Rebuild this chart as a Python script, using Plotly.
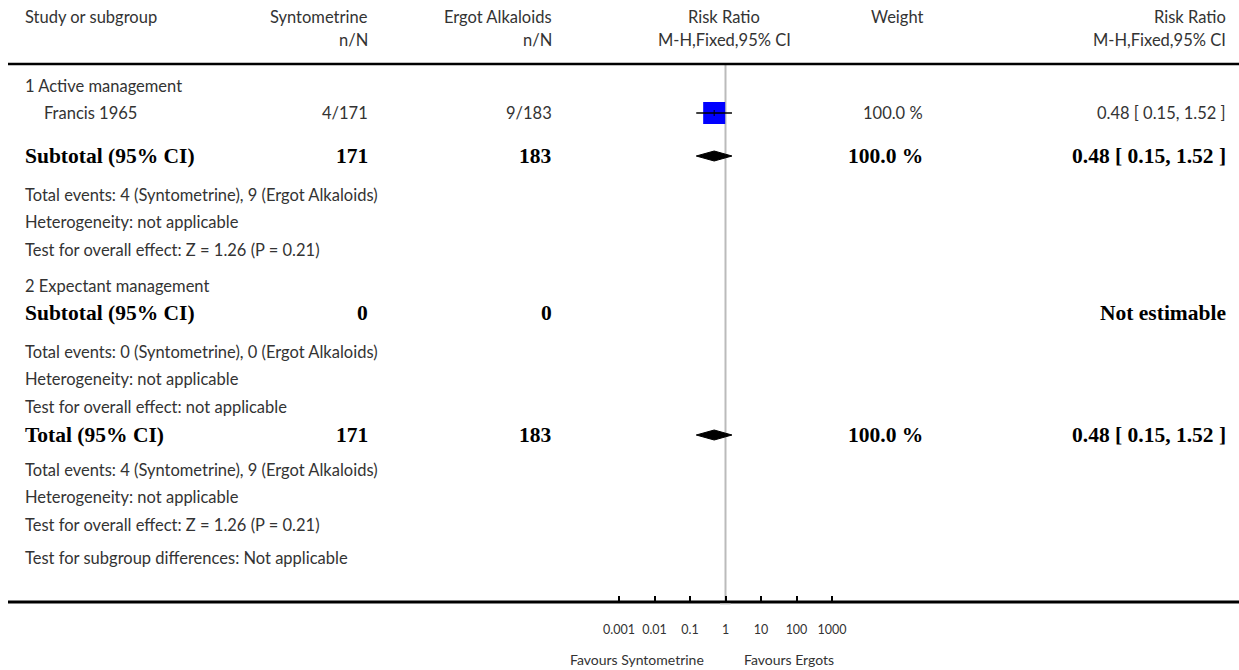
import plotly.graph_objects as go

W, H = 1239, 670

# ---------------- data ----------------
header_row1 = ["Study or subgroup", "Syntometrine", "Ergot Alkaloids", "Risk Ratio", "Weight", "Risk Ratio"]
header_row2 = ["n/N", "n/N", "M-H,Fixed,95% CI", "M-H,Fixed,95% CI"]

studies = ["Francis 1965"]
synto_events = [4]
synto_total = [171]
ergot_events = [9]
ergot_total = [183]
study_rr = [0.48]
study_lo = [0.15]
study_hi = [1.52]
study_weight = [100.0]

sub1_label = "1 Active management"
sub1_n = [171, 183]
sub1_rr, sub1_lo, sub1_hi = 0.48, 0.15, 1.52
sub1_weight = 100.0
sub1_notes = ["Total events: 4 (Syntometrine), 9 (Ergot Alkaloids)",
              "Heterogeneity: not applicable",
              "Test for overall effect: Z = 1.26 (P = 0.21)"]

sub2_label = "2 Expectant management"
sub2_n = [0, 0]
sub2_notes = ["Total events: 0 (Syntometrine), 0 (Ergot Alkaloids)",
              "Heterogeneity: not applicable",
              "Test for overall effect: not applicable"]

total_n = [171, 183]
total_rr, total_lo, total_hi = 0.48, 0.15, 1.52
total_weight = 100.0
total_notes = ["Total events: 4 (Syntometrine), 9 (Ergot Alkaloids)",
               "Heterogeneity: not applicable",
               "Test for overall effect: Z = 1.26 (P = 0.21)",
               "Test for subgroup differences: Not applicable"]

tick_vals = [0.001, 0.01, 0.1, 1, 10, 100, 1000]
tick_text = ["0.001", "0.01", "0.1", "1", "10", "100", "1000"]
favours_left = "Favours Syntometrine"
favours_right = "Favours Ergots"

# ---------------- layout constants (pixels) ----------------
NORMAL = dict(family="Lato, 'Open Sans', sans-serif", size=16.5, color="#333333")
BOLD = dict(family="'Liberation Serif', 'DejaVu Serif', serif", size=21.5, color="#000000",
            weight="bold")
SMALL = dict(family="Lato, 'Open Sans', sans-serif", size=12.5, color="#333333")
FAV = dict(family="Lato, 'Open Sans', sans-serif", size=14, color="#333333")

X_LEFT = 23
X_INDENT = 42
X_SYN = 370
X_ERG = 554
X_RR = 724
X_W = 925
X_RRT = 1228

# log axis: 0.001 at px 619, 1000 at px 832; a little padding so end ticks are drawn
AX_L, AX_R = 619, 832
PAD_DEC = 0.1
PX_PER_DEC = (AX_R - AX_L) / 6.0
AXIS_Y = 602
HEAD_LINE_Y = 64

fig = go.Figure()
ann = []


def txt(x, y, s, anchor="left", font=NORMAL):
    ann.append(dict(x=x / W, y=y, xref="paper", yref="y", text=s, showarrow=False,
                    xanchor=anchor, yanchor="middle", font=font))


def fmt_ci(rr, lo, hi):
    return f"{rr:.2f} [ {lo:.2f}, {hi:.2f} ]"


# headers
txt(X_LEFT, 17, header_row1[0])
txt(X_SYN, 17, header_row1[1], "right")
txt(X_ERG, 17, header_row1[2], "right")
txt(X_RR, 17, header_row1[3], "center")
txt(X_W, 17, header_row1[4], "right")
txt(X_RRT, 17, header_row1[5], "right")
txt(X_SYN, 40, header_row2[0], "right")
txt(X_ERG, 40, header_row2[1], "right")
txt(X_RR, 40, header_row2[2], "center")
txt(X_RRT, 40, header_row2[3], "right")

# subgroup 1
txt(X_LEFT, 86, sub1_label)
row_y = [113]
for i, s in enumerate(studies):
    y = row_y[i]
    txt(X_INDENT, y, s)
    txt(X_SYN, y, f"{synto_events[i]}/{synto_total[i]}", "right")
    txt(X_ERG, y, f"{ergot_events[i]}/{ergot_total[i]}", "right")
    txt(X_W, y, f"{study_weight[i]:.1f} %", "right")
    txt(X_RRT, y, fmt_ci(study_rr[i], study_lo[i], study_hi[i]), "right")

Y_SUB1 = 156
txt(X_LEFT, Y_SUB1, "Subtotal (95% CI)", font=BOLD)
txt(X_SYN, Y_SUB1, str(sub1_n[0]), "right", BOLD)
txt(X_ERG, Y_SUB1, str(sub1_n[1]), "right", BOLD)
txt(X_W, Y_SUB1, f"{sub1_weight:.1f} %", "right", BOLD)
txt(X_RRT, Y_SUB1, fmt_ci(sub1_rr, sub1_lo, sub1_hi), "right", BOLD)
for s, y in zip(sub1_notes, [195, 222, 250]):
    txt(X_LEFT, y, s)

# subgroup 2
txt(X_LEFT, 286, sub2_label)
Y_SUB2 = 313
txt(X_LEFT, Y_SUB2, "Subtotal (95% CI)", font=BOLD)
txt(X_SYN, Y_SUB2, str(sub2_n[0]), "right", BOLD)
txt(X_ERG, Y_SUB2, str(sub2_n[1]), "right", BOLD)
txt(X_RRT, Y_SUB2, "Not estimable", "right", BOLD)
for s, y in zip(sub2_notes, [352, 379, 407]):
    txt(X_LEFT, y, s)

# total
Y_TOT = 435
txt(X_LEFT, Y_TOT, "Total (95% CI)", font=BOLD)
txt(X_SYN, Y_TOT, str(total_n[0]), "right", BOLD)
txt(X_ERG, Y_TOT, str(total_n[1]), "right", BOLD)
txt(X_W, Y_TOT, f"{total_weight:.1f} %", "right", BOLD)
txt(X_RRT, Y_TOT, fmt_ci(total_rr, total_lo, total_hi), "right", BOLD)
for s, y in zip(total_notes, [470, 497, 525, 558]):
    txt(X_LEFT, y, s)

# favours labels
txt(706, 659, favours_left, "right", FAV)
txt(742, 659, favours_right, "left", FAV)

# ---------------- marks ----------------
# null line
fig.add_trace(go.Scatter(x=[1, 1], y=[HEAD_LINE_Y, AXIS_Y], mode="lines",
                         line=dict(color="#bbbbbb", width=2), hoverinfo="skip"))

# study squares + CI
for i in range(len(studies)):
    y = row_y[i]
    fig.add_trace(go.Scatter(x=[study_rr[i]], y=[y], mode="markers",
                             marker=dict(symbol="square", size=22, color="#0000ff",
                                         line=dict(width=0)), hoverinfo="skip"))
    fig.add_trace(go.Scatter(x=[study_lo[i], study_hi[i]], y=[y, y], mode="lines",
                             line=dict(color="#000000", width=1.5), hoverinfo="skip"))
    fig.add_trace(go.Scatter(x=[study_rr[i], study_rr[i]], y=[y - 3, y + 3], mode="lines",
                             line=dict(color="#000000", width=1), hoverinfo="skip"))


def diamond(rr, lo, hi, y, half=5):
    fig.add_trace(go.Scatter(x=[lo, rr, hi, rr, lo], y=[y, y - half, y, y + half, y],
                             mode="lines", fill="toself", fillcolor="#000000",
                             line=dict(color="#000000", width=1), hoverinfo="skip"))


diamond(sub1_rr, sub1_lo, sub1_hi, Y_SUB1)
diamond(total_rr, total_lo, total_hi, Y_TOT)

# ---------------- lines ----------------
shapes = [
    dict(type="line", xref="paper", yref="y", x0=8 / W, x1=1, y0=HEAD_LINE_Y, y1=HEAD_LINE_Y,
         line=dict(color="#000000", width=2.5)),
    dict(type="line", xref="paper", yref="y", x0=8 / W, x1=1, y0=AXIS_Y, y1=AXIS_Y,
         line=dict(color="#000000", width=3)),
    dict(type="line", xref="x", yref="y", x0=0.7, x1=1.4, y0=AXIS_Y + 2, y1=AXIS_Y + 2,
         line=dict(color="#cccccc", width=1)),
]

dom_l = (AX_L - PAD_DEC * PX_PER_DEC) / W
dom_r = (AX_R + PAD_DEC * PX_PER_DEC) / W

fig.update_layout(
    width=W, height=H, margin=dict(l=0, r=0, t=0, b=0, pad=0, autoexpand=False),
    paper_bgcolor="white", plot_bgcolor="rgba(0,0,0,0)",
    showlegend=False, annotations=ann, shapes=shapes,
    xaxis=dict(type="log", range=[-3 - PAD_DEC, 3 + PAD_DEC], domain=[dom_l, dom_r],
               anchor="free", position=(H - AXIS_Y) / H, automargin=False,
               showgrid=False, zeroline=False, showline=False,
               tickmode="array", tickvals=tick_vals, ticktext=tick_text,
               ticks="inside", ticklen=6, tickwidth=2, tickcolor="#000000",
               tickfont=SMALL, ticklabelstandoff=18, fixedrange=True),
    yaxis=dict(range=[H, 0], domain=[0, 1], visible=False, fixedrange=True,
               automargin=False),
)

fig.write_html(
    "out.html",
    config={"displayModeBar": False},
    post_script="document.body.style.margin='0';document.body.style.overflow='hidden';",
)
